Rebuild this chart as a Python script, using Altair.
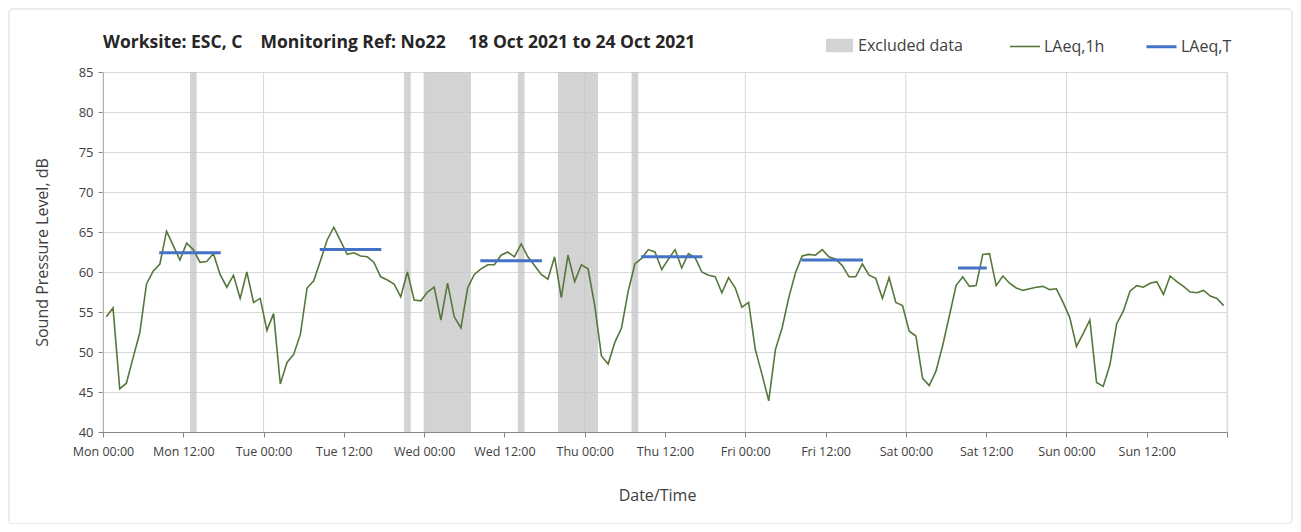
import altair as alt
import pandas as pd

# ---------------- data ----------------
laeq_1h = [
    54.4, 55.5, 45.4, 46.1, 49.3, 52.4, 58.5, 60.1, 61.0, 65.1, 63.3, 61.5,
    63.6, 62.8, 61.2, 61.3, 62.3, 59.7, 58.1, 59.6, 56.7, 60.0, 56.2, 56.7,
    52.7, 54.8, 46.0, 48.7, 49.7, 52.2, 58.0, 58.9, 61.4, 64.0, 65.6, 63.9,
    62.2, 62.4, 62.0, 61.9, 61.2, 59.4, 59.0, 58.5, 56.9, 60.0, 56.5, 56.4,
    57.5, 58.1, 54.0, 58.6, 54.4, 53.0, 58.0, 59.7, 60.4, 60.9, 60.9, 62.1,
    62.5, 61.9, 63.5, 61.9, 60.8, 59.7, 59.1, 61.9, 56.8, 62.1, 58.8, 60.9,
    60.4, 55.8, 49.5, 48.5, 51.2, 53.0, 57.6, 61.0, 61.7, 62.8, 62.5, 60.3,
    61.6, 62.8, 60.5, 62.3, 61.8, 60.0, 59.6, 59.4, 57.4, 59.3, 58.0, 55.6,
    56.2, 50.3, 47.2, 43.9, 50.3, 53.0, 56.8, 59.9, 62.0, 62.2, 62.1, 62.8,
    61.9, 61.6, 60.8, 59.4, 59.4, 61.0, 59.6, 59.2, 56.7, 59.3, 56.2, 55.8,
    52.6, 52.0, 46.7, 45.8, 47.6, 50.8, 54.5, 58.3, 59.4, 58.2, 58.3, 62.2,
    62.3, 58.3, 59.5, 58.6, 58.0, 57.7, 57.9, 58.1, 58.2, 57.8, 57.9, 56.2,
    54.3, 50.7, 52.3, 54.0, 46.2, 45.7, 48.4, 53.5, 55.1, 57.6, 58.3, 58.1,
    58.6, 58.8, 57.2, 59.5, 58.8, 58.2, 57.5, 57.4, 57.7, 57.0, 56.7, 55.8,
]
hour_of_week = list(range(len(laeq_1h)))

excl_start = [13, 45, 48, 62, 68, 79]
excl_end = [14, 46, 55, 63, 74, 80]

laeqT_start = [8.4, 32.4, 56.4, 80.4, 104.4, 127.8]
laeqT_end = [17.6, 41.6, 65.6, 89.6, 113.6, 132.1]
laeqT_value = [62.4, 62.8, 61.4, 61.9, 61.5, 60.5]

tick_labels = [
    "Mon 00:00", "Mon 12:00", "Tue 00:00", "Tue 12:00", "Wed 00:00", "Wed 12:00",
    "Thu 00:00", "Thu 12:00", "Fri 00:00", "Fri 12:00", "Sat 00:00", "Sat 12:00",
    "Sun 00:00", "Sun 12:00", "",
]
tick_hours = list(range(0, 169, 12))
day_grid = list(range(0, 169, 24))
y_ticks = list(range(40, 86, 5))

series_names = ["LAeq,1h", "LAeq,T"]
series_colors = ["#55783a", "#4472c4"]
series_widths = [1.6, 3]

# ---------------- tables ----------------
line_df = pd.DataFrame({
    "t": [h + 0.5 for h in hour_of_week],
    "v": laeq_1h,
    "series": "LAeq,1h",
})
seg_df = pd.DataFrame({
    "start": laeqT_start,
    "end": laeqT_end,
    "v": laeqT_value,
    "series": "LAeq,T",
})
band_df = pd.DataFrame({
    "start": excl_start,
    "end": excl_end,
    "label": "Excluded data",
})
grid_df = pd.DataFrame({"t": day_grid})

FONT = "Open Sans"
TXT = "#404040"

label_js = "[" + ",".join("'%s'" % s for s in tick_labels) + "]"

x_scale = alt.Scale(domain=[0, 168], nice=False, zero=False)
y_scale = alt.Scale(domain=[40, 85], nice=False, zero=False)

x_axis = alt.Axis(
    values=tick_hours,
    labelExpr=label_js + "[round(datum.value / 12)]",
    labelOverlap=False,
    labelFlush=False,
    grid=False,
    domainColor="#868686",
    tickColor="#868686",
    tickSize=5,
    labelPadding=8,
    labelFontSize=12.5,
    labelColor=TXT,
    labelFont=FONT,
    title="Date/Time",
    titleFont=FONT,
    titleFontSize=16,
    titleFontWeight="normal",
    titleColor=TXT,
    titleX=554,
    titleY=63,
    titleBaseline="middle",
)
y_axis = alt.Axis(
    values=y_ticks,
    labelOverlap=False,
    labelFlush=False,
    grid=True,
    gridColor="#d9d9d9",
    domainColor="#868686",
    tickColor="#868686",
    tickSize=5,
    labelPadding=5,
    labelFontSize=13,
    labelColor=TXT,
    labelFont=FONT,
    title="Sound Pressure Level, dB",
    titleFont=FONT,
    titleFontSize=16,
    titleFontWeight="normal",
    titleColor=TXT,
    titleX=-61,
    titleBaseline="middle",
)

stroke_scale = alt.Scale(domain=series_names, range=series_colors)
width_scale = alt.Scale(domain=series_names, range=series_widths)

line_legend = alt.Legend(
    title=None,
    orient="none",
    legendX=906,
    legendY=-42,
    direction="horizontal",
    symbolType="stroke",
    symbolSize=900,
    labelFontSize=16,
    labelFont=FONT,
    labelColor=TXT,
    labelOffset=3,
    columnPadding=35,
    padding=0,
)
fill_legend = alt.Legend(
    title=None,
    orient="none",
    legendX=723,
    legendY=-40,
    direction="horizontal",
    symbolType="M-1,-0.5H1V0.5H-1Z",
    symbolSize=729,
    symbolStrokeWidth=0,
    labelFontSize=16,
    labelFont=FONT,
    labelColor=TXT,
    labelOffset=5,
    padding=0,
)

border = alt.Chart(pd.DataFrame({"k": [0]})).mark_rect(
    fill=None, stroke="#d9d9d9", strokeWidth=1, cornerRadius=4
).encode(
    x=alt.value(-94), x2=alt.value(1189), y=alt.value(-63), y2=alt.value(452)
)

grid_rules = alt.Chart(grid_df).mark_rule(color="#d9d9d9", strokeWidth=1).encode(
    x=alt.X("t:Q", scale=x_scale, axis=x_axis)
)

bands = alt.Chart(band_df).mark_rect(opacity=0.75).encode(
    x=alt.X("start:Q", scale=x_scale, axis=x_axis),
    x2="end:Q",
    y=alt.datum(85, scale=y_scale, axis=y_axis),
    y2=alt.datum(40),
    fill=alt.Fill("label:N", scale=alt.Scale(domain=["Excluded data"], range=["#c4c4c4"]),
                  legend=fill_legend),
)

line = alt.Chart(line_df).mark_line().encode(
    x=alt.X("t:Q", scale=x_scale, axis=x_axis),
    y=alt.Y("v:Q", scale=y_scale, axis=y_axis),
    stroke=alt.Stroke("series:N", scale=stroke_scale, legend=line_legend),
    strokeWidth=alt.StrokeWidth("series:N", scale=width_scale, legend=line_legend),
)

segs = alt.Chart(seg_df).mark_rule().encode(
    x=alt.X("start:Q", scale=x_scale, axis=x_axis),
    x2="end:Q",
    y=alt.Y("v:Q", scale=y_scale, axis=y_axis),
    stroke=alt.Stroke("series:N", scale=stroke_scale, legend=line_legend),
    strokeWidth=alt.StrokeWidth("series:N", scale=width_scale, legend=line_legend),
)

title_text = ("Worksite: ESC, C\u00a0\u00a0\u00a0 Monitoring Ref: No22\u00a0\u00a0\u00a0\u00a0 "
              "18 Oct 2021 to 24 Oct 2021")

chart = alt.layer(border, grid_rules, bands, line, segs).properties(
    width=1124,
    height=360,
    autosize=alt.AutoSizeParams(type="none"),
    padding={"left": 95, "top": 64, "right": 66, "bottom": 92},
    title=alt.TitleParams(
        text=title_text,
        anchor="start",
        frame="group",
        font=FONT,
        fontSize=17.5,
        fontWeight="bold",
        color="#262626",
        offset=0,
        dy=43,
    ),
).configure_view(stroke=None).configure(background="white")

chart.save("out.html", embed_options={"renderer": "svg", "actions": False})
